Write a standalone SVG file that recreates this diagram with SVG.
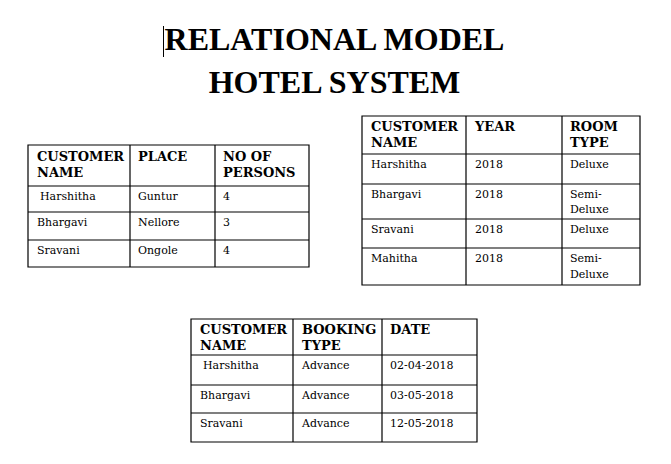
<svg xmlns="http://www.w3.org/2000/svg" width="671" height="464" viewBox="0 0 671 464">
<style>
.grid{fill:none;stroke:#000;stroke-width:1.2}
.h{font-family:"DejaVu Serif",serif;font-weight:bold;font-size:13px;fill:#000}
.b{font-family:"DejaVu Serif",serif;font-size:11px;fill:#000}
.t{font-family:"Liberation Serif","Times New Roman",serif;font-weight:bold;font-size:32px;fill:#000;text-anchor:middle}
</style>
<rect width="671" height="464" fill="#fff"/>
<g id="title">
<line x1="163.5" y1="26" x2="163.5" y2="57" stroke="#000" stroke-width="1"/>
<text class="t" x="334.5" y="50">RELATIONAL MODEL</text>
<text class="t" x="334.5" y="93">HOTEL SYSTEM</text>
</g>
<g id="table-customer-place">
<path class="grid" d="M28 145H309V267H28Z M130 145V267 M215 145V267 M28 186H309 M28 212H309 M28 240H309"/>
<text class="h" x="37" y="161">CUSTOMER</text>
<text class="h" x="37" y="177">NAME</text>
<text class="h" x="138" y="161">PLACE</text>
<text class="h" x="223" y="161">NO OF</text>
<text class="h" x="223" y="177">PERSONS</text>
<text class="b" x="40" y="200">Harshitha</text>
<text class="b" x="138" y="200">Guntur</text>
<text class="b" x="223" y="200">4</text>
<text class="b" x="37" y="226">Bhargavi</text>
<text class="b" x="138" y="226">Nellore</text>
<text class="b" x="223" y="226">3</text>
<text class="b" x="37" y="254">Sravani</text>
<text class="b" x="138" y="254">Ongole</text>
<text class="b" x="223" y="254">4</text>
</g>
<g id="table-customer-room">
<path class="grid" d="M362 116H640V285H362Z M466 116V285 M562 116V285 M362 154H640 M362 184H640 M362 219H640 M362 248H640"/>
<text class="h" x="371" y="131">CUSTOMER</text>
<text class="h" x="371" y="147">NAME</text>
<text class="h" x="475" y="131">YEAR</text>
<text class="h" x="570" y="131">ROOM</text>
<text class="h" x="570" y="147">TYPE</text>
<text class="b" x="371" y="168">Harshitha</text>
<text class="b" x="475" y="168">2018</text>
<text class="b" x="570" y="168">Deluxe</text>
<text class="b" x="371" y="198">Bhargavi</text>
<text class="b" x="475" y="198">2018</text>
<text class="b" x="570" y="198">Semi-</text>
<text class="b" x="570" y="213">Deluxe</text>
<text class="b" x="371" y="233">Sravani</text>
<text class="b" x="475" y="233">2018</text>
<text class="b" x="570" y="233">Deluxe</text>
<text class="b" x="371" y="262">Mahitha</text>
<text class="b" x="475" y="262">2018</text>
<text class="b" x="570" y="262">Semi-</text>
<text class="b" x="570" y="278">Deluxe</text>
</g>
<g id="table-customer-booking">
<path class="grid" d="M191 319H477V442H191Z M293 319V442 M382 319V442 M191 355H477 M191 385H477 M191 413H477"/>
<text class="h" x="200" y="334">CUSTOMER</text>
<text class="h" x="200" y="350">NAME</text>
<text class="h" x="302" y="334">BOOKING</text>
<text class="h" x="302" y="350">TYPE</text>
<text class="h" x="390" y="334">DATE</text>
<text class="b" x="203" y="369">Harshitha</text>
<text class="b" x="302" y="369">Advance</text>
<text class="b" x="390" y="369">02-04-2018</text>
<text class="b" x="200" y="399">Bhargavi</text>
<text class="b" x="302" y="399">Advance</text>
<text class="b" x="390" y="399">03-05-2018</text>
<text class="b" x="200" y="427">Sravani</text>
<text class="b" x="302" y="427">Advance</text>
<text class="b" x="390" y="427">12-05-2018</text>
</g>
<g id="connectors"/>
</svg>
